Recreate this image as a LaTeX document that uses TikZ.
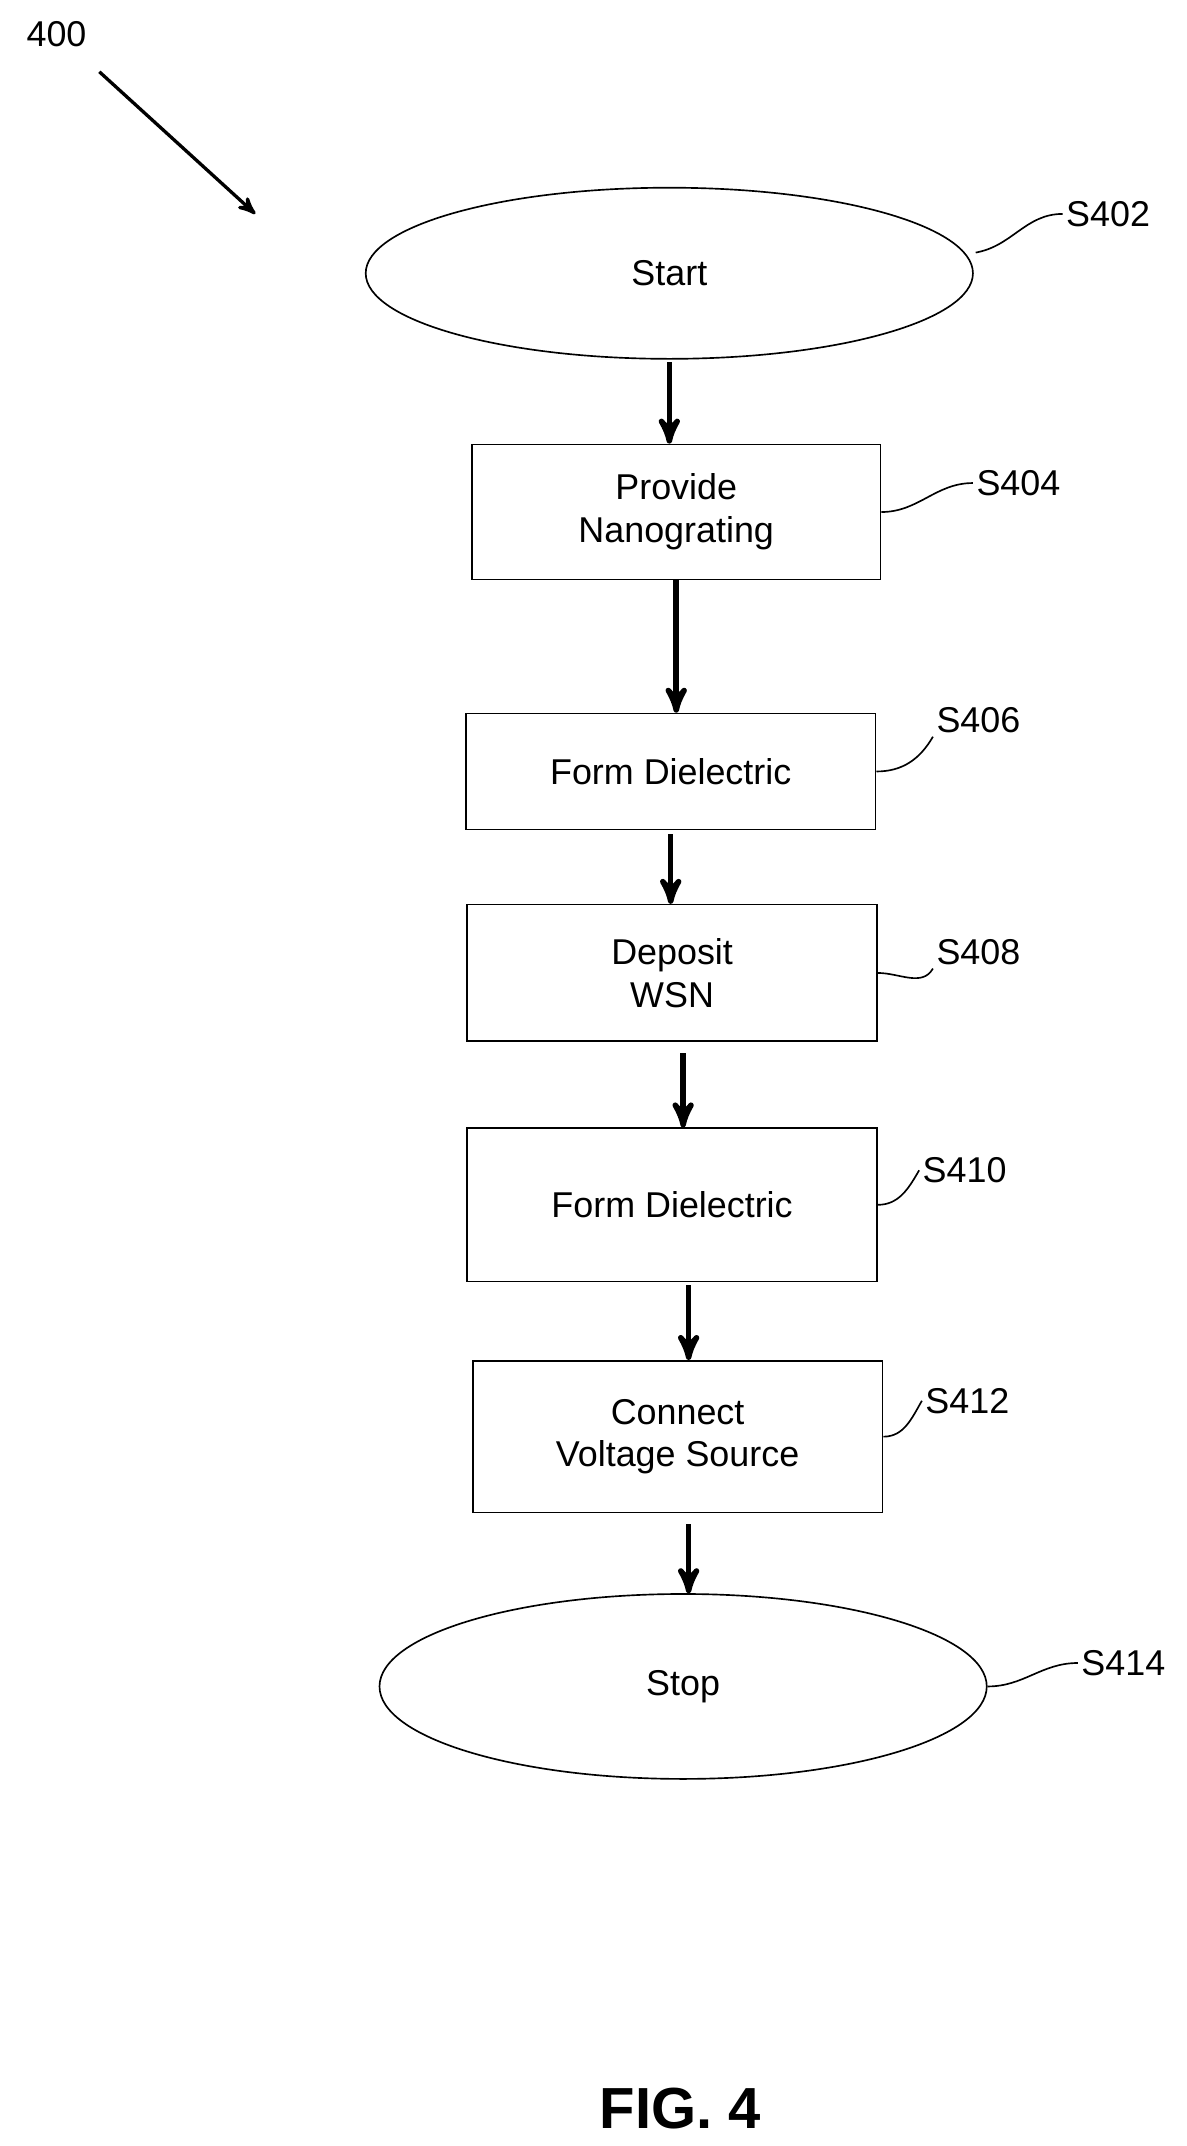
\documentclass[tikz,border=0pt]{standalone}
\usepackage{fontspec}
\setmainfont{Liberation Sans}
\usetikzlibrary{shapes.geometric, arrows}

\begin{document}
\begin{tikzpicture}[x=0.5pt, y=-0.5pt, >=stealth', font=\fontsize{13}{15.5}\selectfont,
                    semithick]
  \tikzset{procbox/.style={draw, rectangle, align=center, inner sep=0pt},
           term/.style={draw, ellipse, inner sep=0pt},
           flow/.style={->, line width=2pt},
           tag/.style={inner sep=1pt, anchor=west}}
  \useasboundingbox (0,0) rectangle (860,1555);

  \node[anchor=west] (l400) at (12,25) {400};
  \coordinate (a400) at (185,155);
  \draw[->, line width=1.2pt] (72,52) -- (a400);

  \node[term, minimum width=220pt, minimum height=62pt] (s402) at (485,198) {Start};
  \node[procbox, minimum width=148pt, minimum height=49pt] (s404) at (490,371) {Provide\\Nanograting};
  \node[procbox, minimum width=148.5pt, minimum height=42pt] (s406) at (486,559) {Form Dielectric};
  \node[procbox, minimum width=148.5pt, minimum height=49.5pt] (s408) at (487,705) {Deposit\\WSN};
  \node[procbox, minimum width=148.5pt, minimum height=55.5pt] (s410) at (487,873) {Form Dielectric};
  \node[procbox, minimum width=148.5pt, minimum height=55pt] (s412) at (491,1041) {Connect\\Voltage Source};
  \node[term, minimum width=220pt, minimum height=67pt] (s414) at (495,1222) {Stop};

  % step tags
  \node[tag] (l402) at (770,155) {S402};
  \node[tag] (l404) at (705,350) {S404};
  \node[tag] (l406) at (676,522) {S406};
  \node[tag] (l408) at (676,690) {S408};
  \node[tag] (l410) at (666,848) {S410};
  \node[tag] (l412) at (668,1015) {S412};
  \node[tag] (l414) at (781,1205) {S414};

  \draw (707,183) to[out=10,in=180] (l402.west);
  \draw (s404.east) to[out=0,in=180] (l404.west);
  \draw (s406.east) to[out=0,in=240] (l406.south west);
  \draw (s408.east) to[out=0,in=240] (l408.south west);
  \draw (s410.east) to[out=0,in=240] (l410.west);
  \draw (s412.east) to[out=0,in=240] (l412.west);
  \draw (s414.east) to[out=0,in=180] (l414.west);

  \draw[flow] ([yshift=-1pt]s402.south) -- (s402.south |- s404.north);
  \draw[flow] (s404.south) -- (s404.south |- s406.north);
  \draw[flow] ([yshift=-1.5pt]s406.south) -- (s406.south |- s408.north);
  \draw[flow] ([xshift=4pt,yshift=-4pt]s408.south) coordinate (t408) -- (t408 |- s410.north);
  \draw[flow] ([xshift=6pt,yshift=-1pt]s410.south) coordinate (t410) -- (t410 |- s412.north);
  \draw[flow] ([xshift=4pt,yshift=-4pt]s412.south) coordinate (t412) -- (t412 |- s414.north);

  \node[font=\fontsize{21}{25}\selectfont\bfseries] (fig) at (493,1528) {FIG. 4};
\end{tikzpicture}
\end{document}
